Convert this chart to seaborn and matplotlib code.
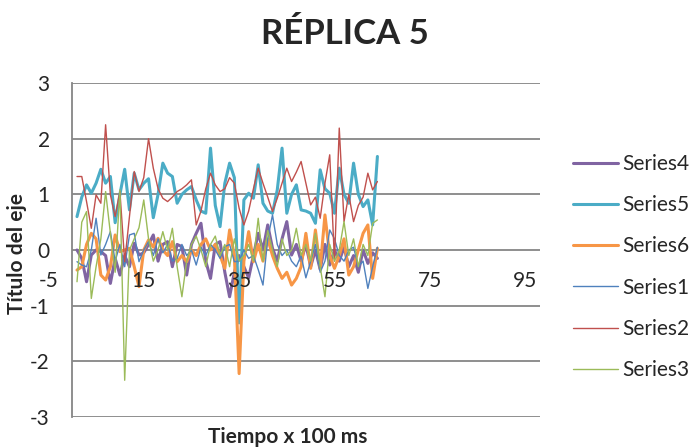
"""
Réplica 5 - six noisy series, Excel style line chart
"""
import pandas as pd
import matplotlib
matplotlib.use('Agg')
import matplotlib.pyplot as plt
import seaborn as sns

# sample index (1..64), one sample = 100 ms
samples = list(range(1, 65))

series4 = [0.0, -0.15, -0.57, -0.09, 0.0, -0.03, -0.1, -0.6, -0.15, -0.45,
           -0.1, -0.3, 0.12, -0.09, -0.05, 0.1, 0.27, -0.2, 0.1, 0.15,
           -0.3, 0.1, 0.06, -0.45, 0.1, 0.3, 0.48, -0.2, -0.51, 0.1,
           0.15, -0.4, -0.84, -0.4, -0.1, -0.3, -0.5, -0.1, 0.3, 0.0,
           0.45, 0.03, -0.2, 0.2, 0.51, -0.09, 0.1, -0.2, 0.1, -0.3,
           0.0, -0.35, 0.1, -0.27, 0.0, -0.2, 0.05, -0.3, -0.1, -0.4,
           0.0, -0.24, -0.05, -0.15]
series5 = [0.6, 0.95, 1.17, 1.02, 1.2, 1.45, 1.2, 1.32, 0.49, 1.0,
           1.45, 0.72, 1.38, 1.08, 1.2, 1.28, 0.58, 1.0, 1.56, 1.38,
           1.32, 0.84, 1.0, 1.08, 1.14, 0.9, 0.7, 0.66, 1.83, 0.8,
           0.42, 1.2, 1.56, 1.3, -1.31, 0.9, 1.02, 0.93, 1.53, 0.84,
           0.7, 0.66, 1.08, 1.83, 0.66, 1.0, 1.17, 0.72, 0.7, 0.66,
           0.48, 1.44, 1.1, 1.02, 0.66, 1.47, 1.0, 0.84, 1.56, 1.0,
           0.78, 0.9, 0.45, 1.68]
series6 = [-0.36, -0.3, 0.1, 0.3, 0.2, -0.45, -0.54, -0.3, 0.27, -0.03,
           0.0, 0.03, -0.3, -0.66, 0.0, 0.18, 0.05, 0.21, 0.0, -0.1,
           0.15, -0.21, -0.1, -0.21, 0.0, -0.1, 0.1, 0.2, 0.0, 0.1,
           -0.1, -0.33, 0.36, -0.1, -2.22, -0.2, 0.33, -0.21, 0.1, -0.2,
           0.2, -0.1, -0.33, -0.51, -0.4, -0.63, -0.51, -0.3, 0.3, -0.33,
           0.36, -0.33, 0.63, -0.1, -0.33, -0.1, 0.2, -0.45, -0.3, 0.0,
           0.3, 0.45, -0.51, 0.03]
series1 = [-0.21, -0.27, -0.3, 0.0, 0.57, -0.09, 0.1, 0.33, -0.2, 0.1,
           -0.3, 0.27, 0.3, -0.21, 0.0, 0.15, -0.1, 0.2, -0.05, 0.1,
           -0.2, -0.15, 0.1, -0.1, 0.0, -0.27, 0.05, -0.1, 0.1, 0.0,
           -0.15, 0.06, 0.1, -0.21, -0.2, 0.0, -0.15, -0.1, -0.35, -0.63,
           0.2, 0.63, 0.1, -0.1, 0.0, -0.2, -0.3, -0.1, -0.5, -0.2,
           0.1, -0.4, -0.2, 0.36, 0.2, -0.1, -0.2, 0.0, 0.05, -0.3,
           -0.2, -0.69, -0.3, 0.05]
series2 = [1.32, 1.32, 0.87, 0.39, 0.99, 0.84, 2.25, 0.99, 0.6, 1.05,
           -0.21, 0.6, 1.41, 1.05, 1.3, 2.0, 1.47, 1.1, 0.93, 0.87,
           0.95, 1.05, 1.1, 1.17, 1.26, 0.45, 0.7, 1.1, 1.38, 1.17,
           1.05, 1.1, 1.3, 1.2, 0.75, 0.45, 0.7, 1.1, 1.47, 1.2,
           0.95, 0.69, 0.93, 1.2, 1.47, 1.23, 1.4, 1.59, 1.2, 0.81,
           0.95, 0.57, 1.2, 1.71, -0.2, 2.19, 0.51, 1.0, 0.51, 0.8,
           0.95, 1.38, 1.08, 1.23]
series3 = [-0.57, 0.5, 0.69, -0.87, -0.3, 0.2, 1.05, 0.3, -0.4, 1.08,
           -2.34, 0.0, 0.2, 0.4, 0.9, 0.2, -0.2, 0.0, 0.33, 0.0,
           0.39, -0.3, -0.84, -0.2, 0.1, 0.25, 0.0, -0.3, 0.1, 0.25,
           -0.1, 0.1, -0.3, 0.2, -0.2, -0.1, 0.1, -0.2, 0.57, -0.2,
           0.35, 0.0, -0.3, 0.2, -0.1, 0.0, 0.39, -0.1, 0.1, -0.2,
           0.3, -0.3, -0.84, 0.1, -0.2, 0.0, 0.51, -0.1, 0.2, -0.3,
           0.1, -0.1, 0.48, 0.54]

series_names = ['Series4', 'Series5', 'Series6', 'Series1', 'Series2', 'Series3']
series_values = [series4, series5, series6, series1, series2, series3]
colors = ['#8064A2', '#4BACC6', '#F79646', '#4F81BD', '#C0504D', '#9BBB59']
widths = [2.2, 2.2, 2.2, 1.0, 1.0, 1.0]

y_ticks = [-3, -2, -1, 0, 1, 2, 3]
x_tick_labels = [-5, 15, 35, 55, 75, 95]

df = pd.DataFrame({'Muestra': samples})
for name, vals in zip(series_names, series_values):
    df[name] = vals
long_df = df.melt(id_vars='Muestra', var_name='Serie', value_name='Valor')

sns.set_style('white')
plt.rcParams['font.family'] = ['Lato', 'DejaVu Sans']

fig = plt.figure(figsize=(6.89, 4.47), dpi=100)
ax = fig.add_axes([72 / 689, 1 - 417 / 447, 468 / 689, 334 / 447])

grid_color = '#868686'
for y in y_ticks:
    ax.axhline(y, color=grid_color, lw=1.3, zorder=0)

for name, color, lw in zip(series_names, colors, widths):
    sns.lineplot(data=long_df[long_df['Serie'] == name], x='Muestra', y='Valor',
                 color=color, lw=lw, label=name, ax=ax, zorder=3)

ax.set_xlim(-0.05, 98.1)
ax.set_ylim(-3, 3)
ax.set_yticks(y_ticks)
ax.set_yticklabels([str(v) for v in y_ticks], fontsize=15)
ax.tick_params(axis='y', length=16, width=1.3, color=grid_color, pad=0)
ax.set_xticks([])

for side in ['top', 'right', 'bottom']:
    ax.spines[side].set_visible(False)
ax.spines['left'].set_color(grid_color)
ax.spines['left'].set_linewidth(1.3)

# category labels sit just under the zero line
for v in x_tick_labels:
    ax.annotate(str(v), xy=(v, 0), xytext=(0, -22), textcoords='offset points',
                ha='center', va='center', fontsize=15, annotation_clip=False)

ax.set_xlabel('')
ax.set_ylabel('')
fig.text(288 / 689, 1 - 437 / 447, 'Tiempo x 100 ms', ha='center', va='center',
         fontsize=15, fontweight='bold')
fig.text(17 / 689, 1 - 253 / 447, 'Título del eje', ha='center', va='center',
         fontsize=15, fontweight='bold', rotation=90)
fig.text(345 / 689, 1 - 34 / 447, 'RÉPLICA 5', ha='center', va='center',
         fontsize=25, fontweight='bold')

ax.legend(loc='upper left', bbox_to_anchor=(573 / 689, 1 - 154 / 447),
          bbox_transform=fig.transFigure, frameon=False, fontsize=15,
          handlelength=2.15, handletextpad=0.2, labelspacing=1.02,
          borderaxespad=0, borderpad=0)

plt.savefig('out.png', dpi=100)
plt.close()
